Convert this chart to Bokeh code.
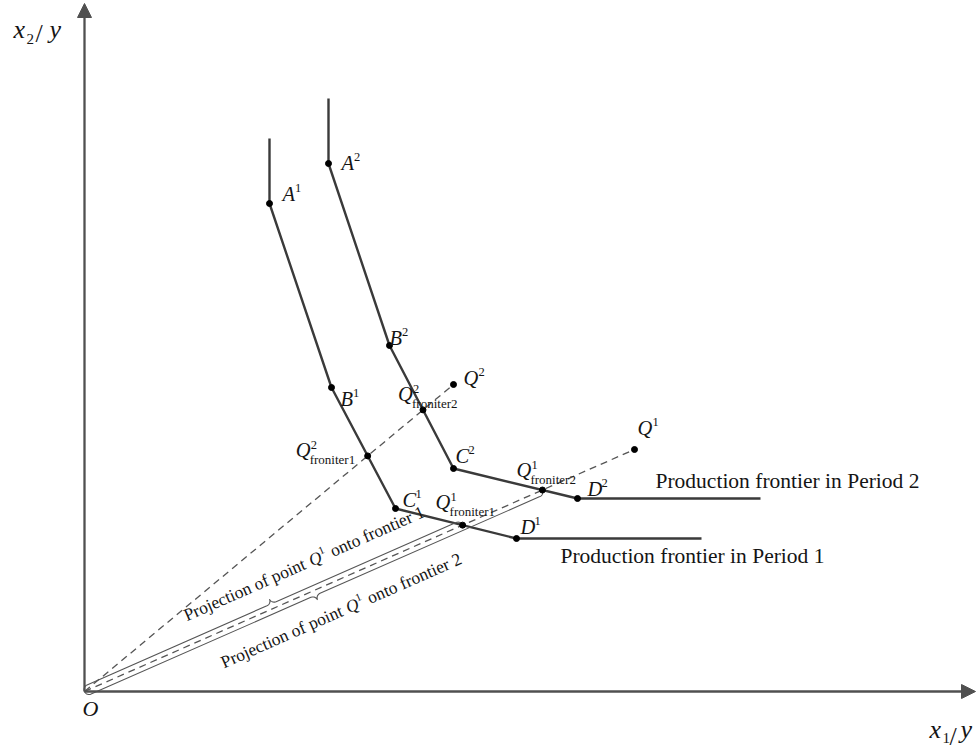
import math
from bokeh.plotting import figure
from bokeh.models import Range1d, Arrow, NormalHead
from bokeh.core.properties import value
from bokeh.embed import file_html
from bokeh.resources import INLINE

# ---------------------------------------------------------------------------
# Data: corner points of the two piecewise-linear production frontiers
# (input ratios x1/y, x2/y) and the two observed units.
# ---------------------------------------------------------------------------
corner_names = ["A", "B", "C", "D"]

frontier1_x = [18.5, 24.7, 31.1, 43.2]
frontier1_y = [48.8, 30.4, 18.3, 15.3]
frontier1_top = 55.3      # vertical extension above A1
frontier1_end = 61.7      # horizontal extension right of D1

frontier2_x = [24.4, 30.5, 36.9, 49.3]
frontier2_y = [52.8, 34.6, 22.3, 19.3]
frontier2_top = 59.3
frontier2_end = 67.6

unit_names = ["1", "2"]
unit_x = [55.0, 36.9]
unit_y = [24.2, 30.7]

axis_x_end = 89.1
axis_y_end = 68.8

# ---------------------------------------------------------------------------
# Styling
# ---------------------------------------------------------------------------
PX = 10.0                      # screen pixels per data unit (both axes)
FONT = value("Liberation Serif")
TEXT_COLOR = "#141414"
AXIS_COLOR = "#505050"
FRONTIER_COLOR = "#3a3a3a"
GUIDE_COLOR = "#555555"
BASELINE_LIFT = 0.34           # em; lifts glyph text onto its intended baseline

TIMES = {' ': .25, 'P': .556, 'r': .333, 'o': .5, 'j': .278, 'e': .444, 'c': .444,
         't': .278, 'i': .278, 'n': .5, 'f': .333, 'p': .5, '1': .5, '2': .5,
         'd': .5, 'u': .5}
ITALIC_W = {"A": 12.5, "B": 12.5, "C": 13.0, "D": 14.0, "Q": 15.0}


def text_width(s, size):
    return sum(TIMES.get(c, .5) for c in s) * size


p = figure(width=978, height=751,
           x_range=Range1d(-8.4, 89.4), y_range=Range1d(-6.0, 69.1),
           output_backend="svg", toolbar_location=None,
           x_axis_type=None, y_axis_type=None,
           min_border=0, outline_line_color=None,
           background_fill_color="white", border_fill_color="white")

# collected text pieces, grouped by (size, style, angle)
pieces = {}


def put(x, y, s, size, style="normal", angle=0.0):
    lift = BASELINE_LIFT * size / PX
    x -= lift * math.sin(angle)
    y += lift * math.cos(angle)
    key = (size, style, angle)
    d = pieces.setdefault(key, {"x": [], "y": [], "text": []})
    d["x"].append(x)
    d["y"].append(y)
    d["text"].append(s)


def at(x, y, dx_px, dy_px):
    """data point shifted by a screen offset (dy positive = downwards)"""
    return x + dx_px / PX, y - dy_px / PX


def point_label(x, y, dx, dy, letter, sup=None, sub=None, size=20.5):
    bx, by = at(x, y, dx, dy)
    put(bx, by, letter, size, "italic")
    w = ITALIC_W.get(letter, 0.6 * size)
    if sup:
        sx, sy = at(bx, by, w, -8)
        put(sx, sy, sup, 12.5)
    if sub:
        sx, sy = at(bx, by, w - 1, 7)
        put(sx, sy, sub, 13)


# ---------------------------------------------------------------------------
# Axes with arrow heads
# ---------------------------------------------------------------------------
for xe, ye in [(axis_x_end, 0.0), (0.0, axis_y_end)]:
    p.add_layout(Arrow(end=NormalHead(size=14, fill_color=AXIS_COLOR,
                                      line_color=AXIS_COLOR, line_width=1),
                       x_start=0.0, y_start=0.0, x_end=xe, y_end=ye,
                       line_color=AXIS_COLOR, line_width=2.3))

# ---------------------------------------------------------------------------
# Frontiers
# ---------------------------------------------------------------------------
frontiers = [
    (frontier1_x, frontier1_y, frontier1_top, frontier1_end),
    (frontier2_x, frontier2_y, frontier2_top, frontier2_end),
]
for fx, fy, top, end in frontiers:
    xs = [fx[0]] + fx + [end]
    ys = [top] + fy + [fy[-1]]
    p.line(xs, ys, line_color=FRONTIER_COLOR, line_width=2.4)


def ray_hit(qx, qy, fx, fy):
    """intersection of the ray O->Q with a frontier polyline"""
    for i in range(len(fx) - 1):
        ax, ay, bx, by = fx[i], fy[i], fx[i + 1], fy[i + 1]
        dx, dy = bx - ax, by - ay
        den = qx * dy - qy * dx
        if abs(den) < 1e-12:
            continue
        t = (ax * dy - ay * dx) / den
        s = (ax * qy - ay * qx) / den
        if 0 <= s <= 1 and t > 0:
            return t * qx, t * qy
    return None


# projections: unit 1 onto both frontiers, unit 2 onto both frontiers
q1_f1 = ray_hit(unit_x[0], unit_y[0], frontier1_x, frontier1_y)
q1_f2 = ray_hit(unit_x[0], unit_y[0], frontier2_x, frontier2_y)
q2_f1 = ray_hit(unit_x[1], unit_y[1], frontier1_x, frontier1_y)
q2_f2 = ray_hit(unit_x[1], unit_y[1], frontier2_x, frontier2_y)

# dashed rays from the origin to the observed units
for qx, qy in zip(unit_x, unit_y):
    p.line([0.0, qx], [0.0, qy], line_color=GUIDE_COLOR, line_width=1.3,
           line_dash="7 5")


# braces along the ray O->Q1 marking both projection distances
def brace_path(ex, ey, side, r=0.5, n=16):
    L = math.hypot(ex, ey)
    ux, uy = ex / L, ey / L
    nx, ny = -uy * side, ux * side
    h = L / 2
    s_pts, n_pts = [], []
    for k in range(n + 1):
        th = math.pi / 2 * k / n
        s_pts.append(r - r * math.cos(th))
        n_pts.append(r * math.sin(th))
    for k in range(n + 1):
        th = math.pi / 2 * k / n
        s_pts.append(h - r + r * math.sin(th))
        n_pts.append(2 * r - r * math.cos(th))
    full_s = s_pts + [L - s for s in reversed(s_pts)]
    full_n = n_pts + list(reversed(n_pts))
    xs = [s * ux + m * nx for s, m in zip(full_s, full_n)]
    ys = [s * uy + m * ny for s, m in zip(full_s, full_n)]
    return xs, ys


for (ex, ey), side in [(q1_f1, 1), (q1_f2, -1)]:
    bx, by = brace_path(ex, ey, side)
    p.line(bx, by, line_color=GUIDE_COLOR, line_width=1.1)

# ---------------------------------------------------------------------------
# Points
# ---------------------------------------------------------------------------
dot_x = frontier1_x + frontier2_x + unit_x + [q1_f1[0], q1_f2[0], q2_f1[0], q2_f2[0]]
dot_y = frontier1_y + frontier2_y + unit_y + [q1_f1[1], q1_f2[1], q2_f1[1], q2_f2[1]]
p.scatter(dot_x, dot_y, size=6, fill_color="black", line_color="black")

# ---------------------------------------------------------------------------
# Labels
# ---------------------------------------------------------------------------
corner_offsets = {
    1: [(13, -3), (9, 18), (7, -2), (4, -5)],
    2: [(13, 6), (0, -1), (2, -6), (10, -3)],
}
for period, (fx, fy) in [(1, (frontier1_x, frontier1_y)), (2, (frontier2_x, frontier2_y))]:
    for name, x, y, (dx, dy) in zip(corner_names, fx, fy, corner_offsets[period]):
        point_label(x, y, dx, dy, name, sup=str(period))

unit_offsets = [(3, -15), (10, 0)]
for name, x, y, (dx, dy) in zip(unit_names, unit_x, unit_y, unit_offsets):
    point_label(x, y, dx, dy, "Q", sup=name)

point_label(q2_f1[0], q2_f1[1], -72, 1, "Q", sup="2", sub="froniter1")
point_label(q2_f2[0], q2_f2[1], -25, -9, "Q", sup="2", sub="froniter2")
point_label(q1_f1[0], q1_f1[1], -27, -16, "Q", sup="1", sub="froniter1")
point_label(q1_f2[0], q1_f2[1], -26, -13, "Q", sup="1", sub="froniter2")

# frontier names
lx, ly = at(frontier2_x[-1], frontier2_y[-1], 78, -10)
put(lx, ly, "Production  frontier in Period 2", 21.5)
lx, ly = at(frontier1_x[-1], frontier1_y[-1], 44, 25)
put(lx, ly, "Production frontier in Period 1", 21.5)

# origin and axis titles
ox, oy = at(0.0, 0.0, -2, 24)
put(ox, oy, "O", 22, "italic")

ax_, ay_ = at(0.0, axis_y_end, -71, 35)
put(ax_, ay_, "x", 26, "italic")
put(*at(ax_, ay_, 13, 6), "2", 15)
put(*at(ax_, ay_, 22, 4), "/", 26)
put(*at(ax_, ay_, 36, 0), "y", 26, "italic")

bx_, by_ = at(axis_x_end, 0.0, -46, 47)
put(bx_, by_, "x", 26, "italic")
put(*at(bx_, by_, 13, 5), "1", 15)
put(*at(bx_, by_, 20, 7), "/", 26)
put(*at(bx_, by_, 31, 0), "y", 26, "italic")

# rotated captions along the ray O->Q1
ang = math.atan2(unit_y[0], unit_x[0])
ux, uy = math.cos(ang), math.sin(ang)
nx, ny = -uy, ux


def caption(along_px, perp_px, tail, size=17.5):
    bx = (along_px * ux + perp_px * nx) / PX
    by = (along_px * uy + perp_px * ny) / PX

    def pos(d, lift=0.0):
        return bx + (d * ux + lift * nx) / PX, by + (d * uy + lift * ny) / PX

    head = "Projection of point"
    put(*pos(0), head, size, "normal", ang)
    d = text_width(head, size) + 5
    put(*pos(d), "Q", size, "italic", ang)
    d += 0.722 * size
    put(*pos(d, 7), "1", 11, "normal", ang)
    d += 11
    put(*pos(d), tail, size, "normal", ang)


caption(122, 23, "onto  frontier 1")
caption(137, -35, "onto frontier 2")

for (size, style, angle), d in pieces.items():
    p.text(x=d["x"], y=d["y"], text=d["text"], angle=angle, angle_units="rad",
           text_font=FONT, text_font_size=f"{size}px", text_font_style=style,
           text_color=TEXT_COLOR, text_align="left", text_baseline="alphabetic")

open("out.html", "w").write(file_html(p, INLINE, title="Production frontiers"))
